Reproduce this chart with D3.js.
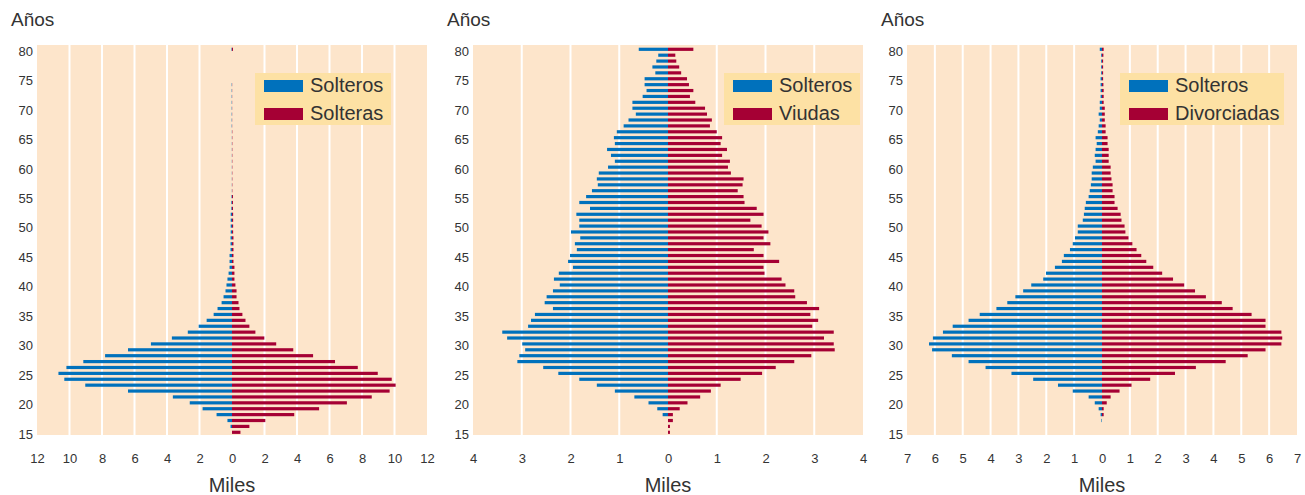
<!DOCTYPE html>
<html>
<head>
<meta charset="utf-8">
<script src="https://cdn.jsdelivr.net/npm/d3@7/dist/d3.min.js"></script>
<style>
  body { margin: 0; background: #fff; }
  svg { display: block; font-family: "Liberation Sans", Arial, sans-serif; }
</style>
</head>
<body>
<svg id="chart" width="1305" height="495"></svg>
<script>
// ages 15..80 (one bar pair per year)
const ages = [15,16,17,18,19,20,21,22,23,24,25,26,27,28,29,30,31,32,33,34,35,36,37,38,39,40,
  41,42,43,44,45,46,47,48,49,50,51,52,53,54,55,56,57,58,59,60,61,62,63,64,65,66,67,68,69,70,
  71,72,73,74,75,76,77,78,79,80];
const ageTicks = [15,20,25,30,35,40,45,50,55,60,65,70,75,80];

// panel 1 (miles)
const solteros1 = [0,0.09,0.28,0.95,1.81,2.60,3.64,6.40,9.03,10.32,10.68,10.19,9.15,7.81,6.40,4.99,
  3.70,2.72,2.05,1.56,1.13,0.89,0.64,0.52,0.40,0.34,0.28,0.21,0.15,0.15,0.15,0.09,0.09,0.09,
  0.08,0.08,0.08,0.08,0.04,0.04,0.03,0.01,0.01,0.01,0.01,0.01,0.01,0.01,0.01,0.01,0.01,0.01,
  0.02,0.02,0.02,0.02,0.02,0.02,0.02,0.02,0,0,0,0,0,0.03];
const solteras = [0.52,1.07,2.05,3.83,5.36,7.07,8.60,9.70,10.07,9.83,8.97,7.74,6.34,4.99,3.77,2.72,
  1.99,1.44,1.07,0.83,0.64,0.46,0.40,0.28,0.28,0.21,0.15,0.15,0.15,0.09,0.09,0.09,0.09,0.09,
  0.07,0.07,0.07,0.07,0.06,0.06,0.06,0.02,0.02,0.02,0.02,0.02,0.02,0.02,0.02,0.02,0.02,0.02,
  0.01,0.01,0.01,0.01,0.01,0.01,0.01,0.01,0,0,0,0,0,0.06];

// panel 2
const solteros2 = [0,0,0,0.11,0.22,0.40,0.69,1.09,1.46,1.82,2.25,2.56,3.09,3.05,2.93,2.99,
  3.30,3.40,2.87,2.81,2.73,2.36,2.53,2.49,2.36,2.22,2.34,2.24,1.95,2.05,2.01,1.87,1.91,1.80,
  1.99,1.82,1.82,1.88,1.60,1.82,1.68,1.56,1.44,1.46,1.42,1.23,1.09,1.17,1.25,1.09,1.11,1.05,
  0.91,0.81,0.66,0.73,0.73,0.52,0.44,0.48,0.48,0.26,0.32,0.24,0.20,0.60];
const viudas = [0.04,0.04,0.10,0.10,0.24,0.40,0.66,0.88,1.08,1.49,1.93,2.21,2.59,2.94,3.42,3.40,
  3.20,3.40,2.96,3.08,2.92,3.10,2.85,2.61,2.59,2.41,2.33,1.98,1.96,2.28,1.96,1.76,2.10,1.96,
  2.06,1.92,1.69,1.96,1.82,1.57,1.55,1.43,1.53,1.55,1.29,1.23,1.27,1.11,1.21,1.08,1.11,1.00,
  0.86,0.90,0.80,0.76,0.56,0.45,0.52,0.43,0.39,0.27,0.23,0.17,0.15,0.52];

// panel 3
const solteros3 = [0,0,0.02,0.05,0.12,0.26,0.48,1.05,1.58,2.47,3.25,4.18,4.79,5.39,6.10,6.21,
  6.07,5.71,5.36,4.79,4.39,3.79,3.40,3.11,2.83,2.54,2.11,2.01,1.69,1.44,1.37,1.15,1.05,0.97,
  0.87,0.87,0.69,0.65,0.62,0.58,0.48,0.44,0.40,0.37,0.37,0.33,0.23,0.26,0.23,0.19,0.23,0.15,
  0.12,0.08,0.12,0.08,0.08,0.05,0.05,0.05,0.05,0.03,0.03,0.03,0.03,0.08];
const divorciadas = [0,0,0,0.06,0.06,0.17,0.31,0.63,1.06,1.73,2.62,3.37,4.44,5.23,5.87,6.44,
  6.47,6.44,5.87,5.87,5.37,4.69,4.30,3.73,3.34,2.95,2.55,2.16,1.84,1.59,1.41,1.24,1.09,0.95,
  0.84,0.81,0.70,0.67,0.56,0.45,0.45,0.38,0.38,0.34,0.31,0.31,0.24,0.24,0.24,0.20,0.20,0.13,
  0.13,0.10,0.10,0.10,0.06,0.06,0.06,0.05,0.04,0.04,0.04,0.04,0.05,0.06];

const xTicks1 = [-12,-10,-8,-6,-4,-2,0,2,4,6,8,10,12];
const xTicks2 = [-4,-3,-2,-1,0,1,2,3,4];
const xTicks3 = [-7,-6,-5,-4,-3,-2,-1,0,1,2,3,4,5,6,7];

const blue = "#0071bc";
const red = "#a50034";
const bg = "#fde5cb";
const legendBg = "#fde1a4";
const textColor = "#333";

const panels = [
  { left: 37, max: 12, ticks: xTicks1, men: solteros1, women: solteras,
    names: ["Solteros", "Solteras"], legendX: 218, legendW: 136 },
  { left: 473, max: 4, ticks: xTicks2, men: solteros2, women: viudas,
    names: ["Solteros", "Viudas"], legendX: 251, legendW: 136 },
  { left: 907, max: 7, ticks: xTicks3, men: solteros3, women: divorciadas,
    names: ["Solteros", "Divorciadas"], legendX: 213, legendW: 164 }
];

const plotW = 390, plotTop = 45, plotBottom = 435;
const svg = d3.select("#chart");

const y = d3.scalePoint()
  .domain(ages.slice().reverse())
  .range([49.3, 432.3]);
const barH = 3.2;

panels.forEach(p => {
  const g = svg.append("g").attr("transform", `translate(${p.left},0)`);
  const x = d3.scaleLinear().domain([-p.max, p.max]).range([0, plotW]);

  g.append("rect")
    .attr("x", 0).attr("y", plotTop)
    .attr("width", plotW).attr("height", plotBottom - plotTop)
    .attr("fill", bg);

  // white gridlines, not on the edges or at zero
  g.selectAll(".grid")
    .data(p.ticks.filter(t => t !== 0 && Math.abs(t) !== p.max))
    .enter().append("line")
    .attr("x1", d => x(d)).attr("x2", d => x(d))
    .attr("y1", plotTop).attr("y2", plotBottom)
    .attr("stroke", "#fff").attr("stroke-width", 2);

  const rows = ages.map((a, i) => ({ age: a, m: p.men[i], f: p.women[i] }));

  g.selectAll(".men")
    .data(rows.filter(d => d.m > 0))
    .enter().append("rect")
    .attr("x", d => x(-d.m))
    .attr("y", d => y(d.age) - barH / 2)
    .attr("width", d => x(0) - x(-d.m))
    .attr("height", barH)
    .attr("fill", blue);

  g.selectAll(".women")
    .data(rows.filter(d => d.f > 0))
    .enter().append("rect")
    .attr("x", x(0))
    .attr("y", d => y(d.age) - barH / 2)
    .attr("width", d => x(d.f) - x(0))
    .attr("height", barH)
    .attr("fill", red);

  const yAxis = g.append("g")
    .call(d3.axisLeft(y).tickValues(ageTicks).tickSize(0).tickPadding(4));
  yAxis.select(".domain").remove();
  yAxis.selectAll("text").attr("font-size", 13).attr("fill", textColor)
    .attr("dy", "0.45em")
    .style("font-family", "inherit");

  const xAxis = g.append("g")
    .attr("transform", `translate(0,${plotBottom})`)
    .call(d3.axisBottom(x).tickValues(p.ticks).tickFormat(d => Math.abs(d))
      .tickSize(0).tickPadding(19));
  xAxis.select(".domain").remove();
  xAxis.selectAll("text").attr("font-size", 13).attr("fill", textColor)
    .style("font-family", "inherit");

  g.append("text")
    .attr("x", -26).attr("y", 26)
    .attr("font-size", 19).attr("fill", textColor)
    .text("Años");

  g.append("text")
    .attr("x", x(0)).attr("y", 492)
    .attr("text-anchor", "middle")
    .attr("font-size", 20).attr("fill", textColor)
    .text("Miles");

  // legend
  const lg = g.append("g").attr("transform", `translate(${p.legendX},73)`);
  lg.append("rect")
    .attr("width", p.legendW).attr("height", 52)
    .attr("fill", legendBg);
  [blue, red].forEach((c, i) => {
    lg.append("rect")
      .attr("x", 9).attr("y", 7 + i * 28)
      .attr("width", 39).attr("height", 12)
      .attr("fill", c);
    lg.append("text")
      .attr("x", 55).attr("y", 12 + i * 28)
      .attr("dy", "0.35em")
      .attr("font-size", 20).attr("fill", textColor)
      .text(p.names[i]);
  });
});
</script>
</body>
</html>
